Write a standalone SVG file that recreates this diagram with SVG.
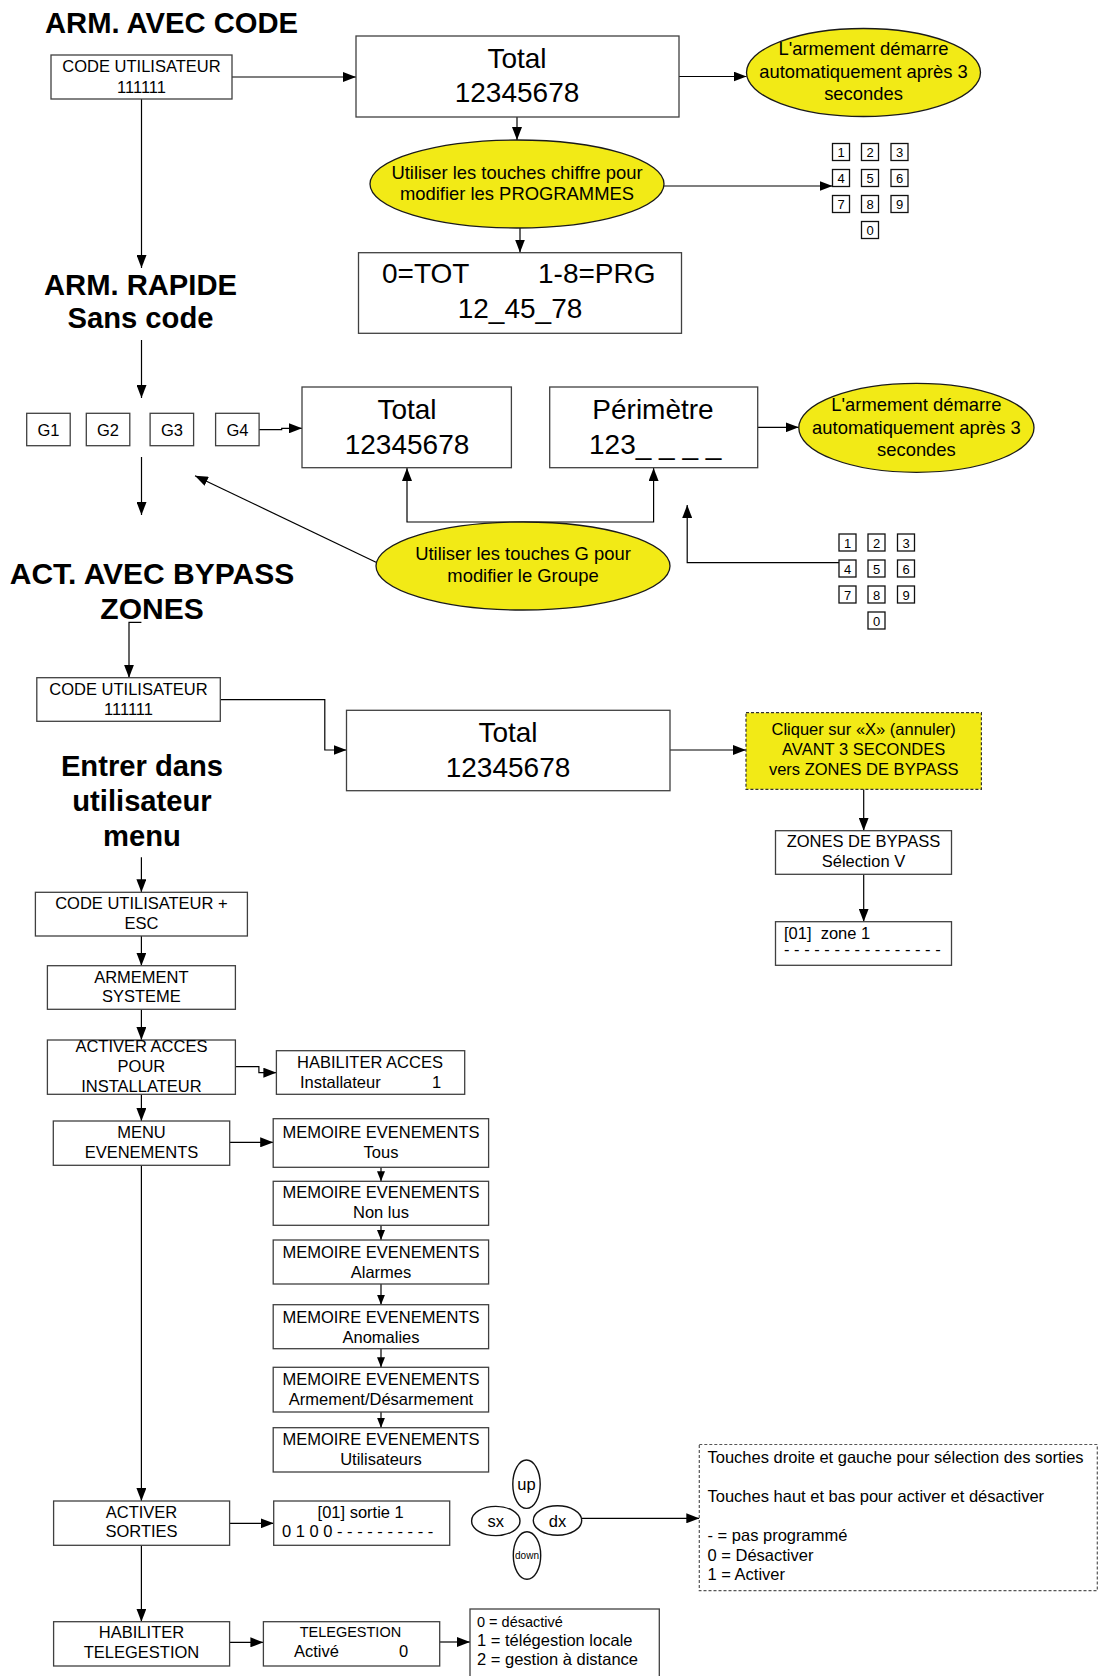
<svg xmlns="http://www.w3.org/2000/svg" width="1099" height="1676" viewBox="0 0 1099 1676">
<defs>
<style>
.box{fill:#fff;stroke:#404040;stroke-width:1.3}
.yel{fill:#f2ea16;stroke:#1a1a1a;stroke-width:1.3}
.ydash{fill:#f2ea16;stroke:#333;stroke-width:1.2;stroke-dasharray:3,2}
.ndash{fill:#fff;stroke:#555;stroke-width:1.2;stroke-dasharray:3,2}
.key{fill:#fff;stroke:#111;stroke-width:1.3}
.jk{fill:#fff;stroke:#111;stroke-width:1.4}
text{font-family:"Liberation Sans",Arial,Helvetica,sans-serif;fill:#000}
.s16{font-size:16.5px}
.s14{font-size:14.5px}
.s18{font-size:18.4px}
.s28{font-size:28px}
.s13{font-size:13px}
.s10{font-size:10px}
.ttl{font-size:29.2px;font-weight:bold}
.ttlw{font-size:30px;font-weight:bold}
.m{text-anchor:middle}
.conn{fill:none;stroke:#000;stroke-width:1.2}
</style>
<marker id="arr" markerUnits="userSpaceOnUse" viewBox="0 0 13 10" refX="13" refY="5" markerWidth="13" markerHeight="10" orient="auto">
<path d="M0,0 L13,5 L0,10 z" fill="#000"/>
</marker>
<marker id="arrS" markerUnits="userSpaceOnUse" viewBox="0 0 10 8" refX="10" refY="4" markerWidth="10" markerHeight="8" orient="auto">
<path d="M0,0 L10,4 L0,8 z" fill="#000"/>
</marker>
</defs>
<rect width="1099" height="1676" fill="#fff"/>

<g id="titles">
<text class="ttl" x="45" y="33">ARM. AVEC CODE</text>
<text class="ttl m" x="140.5" y="295">ARM. RAPIDE</text>
<text class="ttl m" x="140.5" y="328">Sans code</text>
<text class="ttlw m" x="152" y="584">ACT. AVEC BYPASS</text>
<text class="ttlw m" x="152" y="619">ZONES</text>
<text class="ttl m" x="142" y="776">Entrer dans</text>
<text class="ttl m" x="142" y="811">utilisateur</text>
<text class="ttl m" x="142" y="846">menu</text>
</g>

<g id="connectors">
<line class="conn" x1="232" y1="77" x2="356" y2="77" marker-end="url(#arr)"/>
<line class="conn" x1="679" y1="76.5" x2="746.5" y2="76.5" marker-end="url(#arr)"/>
<line class="conn" x1="517" y1="117" x2="517" y2="140" marker-end="url(#arr)"/>
<line class="conn" x1="520" y1="228" x2="520" y2="252.5" marker-end="url(#arr)"/>
<line class="conn" x1="663" y1="186" x2="832.5" y2="186" marker-end="url(#arr)"/>
<line class="conn" x1="141.5" y1="99" x2="141.5" y2="268" marker-end="url(#arr)"/>
<line class="conn" x1="141.5" y1="340" x2="141.5" y2="398" marker-end="url(#arr)"/>
<path class="conn" d="M259,429.7 H281.7 V428.3 H302" marker-end="url(#arr)"/>
<line class="conn" x1="141.5" y1="457" x2="141.5" y2="515" marker-end="url(#arr)"/>
<line class="conn" x1="376" y1="562.3" x2="195" y2="475.7" marker-end="url(#arr)"/>
<path class="conn" d="M523,522 H407 V468" marker-end="url(#arr)"/>
<path class="conn" d="M523,522 H653.6 V468" marker-end="url(#arr)"/>
<path class="conn" d="M839,562.7 H687.2 V505" marker-end="url(#arr)"/>
<line class="conn" x1="757.8" y1="427.3" x2="798.7" y2="427.3" marker-end="url(#arr)"/>
<path class="conn" d="M141.4,622.3 H129 V677.7" marker-end="url(#arr)"/>
<path class="conn" d="M220.3,699.7 H324.8 V750 H346.5" marker-end="url(#arr)"/>
<line class="conn" x1="670" y1="750" x2="746" y2="750" marker-end="url(#arr)"/>
<line class="conn" x1="863.7" y1="789.3" x2="863.7" y2="830.7" marker-end="url(#arr)"/>
<line class="conn" x1="863.7" y1="874.3" x2="863.7" y2="921.7" marker-end="url(#arr)"/>
<line class="conn" x1="141.4" y1="857.3" x2="141.4" y2="892.3" marker-end="url(#arr)"/>
<line class="conn" x1="141.4" y1="936" x2="141.4" y2="965.7" marker-end="url(#arr)"/>
<line class="conn" x1="141.4" y1="1009.3" x2="141.4" y2="1040" marker-end="url(#arr)"/>
<path class="conn" d="M235.4,1066.7 H258.9 V1072.7 H276.4" marker-end="url(#arr)"/>
<line class="conn" x1="141.4" y1="1094.3" x2="141.4" y2="1121" marker-end="url(#arr)"/>
<line class="conn" x1="229.7" y1="1142.3" x2="273.2" y2="1142.3" marker-end="url(#arr)"/>
<line class="conn" x1="381" y1="1167.3" x2="381" y2="1181.3" marker-end="url(#arrS)"/>
<line class="conn" x1="381" y1="1225.3" x2="381" y2="1240" marker-end="url(#arrS)"/>
<line class="conn" x1="381" y1="1284" x2="381" y2="1304.7" marker-end="url(#arrS)"/>
<line class="conn" x1="381" y1="1348.7" x2="381" y2="1367.3" marker-end="url(#arrS)"/>
<line class="conn" x1="381" y1="1412" x2="381" y2="1427.7" marker-end="url(#arrS)"/>
<line class="conn" x1="141.4" y1="1165.3" x2="141.4" y2="1501" marker-end="url(#arr)"/>
<line class="conn" x1="229.6" y1="1523.3" x2="273.7" y2="1523.3" marker-end="url(#arr)"/>
<line class="conn" x1="581.7" y1="1518.3" x2="699.3" y2="1518.3" marker-end="url(#arr)"/>
<line class="conn" x1="141.4" y1="1545.3" x2="141.4" y2="1621.7" marker-end="url(#arr)"/>
<line class="conn" x1="229.6" y1="1642.3" x2="263.4" y2="1642.3" marker-end="url(#arr)"/>
<line class="conn" x1="439.7" y1="1642" x2="470" y2="1642" marker-end="url(#arr)"/>
</g>

<g id="code1">
<rect class="box" x="51" y="55" width="181" height="44"/>
<text class="s16 m" x="141.5" y="72">CODE UTILISATEUR</text>
<text class="s16 m" x="141.5" y="92.5">111111</text>
</g>
<g id="total1">
<rect class="box" x="356" y="36" width="323" height="81"/>
<text class="s28 m" x="517" y="68">Total</text>
<text class="s28 m" x="517" y="102">12345678</text>
</g>
<g id="ell1">
<ellipse class="yel" cx="863.5" cy="72.5" rx="117" ry="44"/>
<text class="s18 m" x="863.5" y="55">L'armement démarre</text>
<text class="s18 m" x="863.5" y="77.5">automatiquement après 3</text>
<text class="s18 m" x="863.5" y="100">secondes</text>
</g>
<g id="ell2">
<ellipse class="yel" cx="517" cy="184" rx="147" ry="44"/>
<text class="s18 m" x="517" y="179">Utiliser les touches chiffre pour</text>
<text class="s18 m" x="517" y="200">modifier les PROGRAMMES</text>
</g>
<g id="prg">
<rect class="box" x="358.5" y="252.7" width="323" height="80.6"/>
<text class="s28" x="382" y="283">0=TOT</text>
<text class="s28" x="538" y="283">1-8=PRG</text>
<text class="s28 m" x="520" y="318">12_45_78</text>
</g>
<g id="keypad1">
<rect class="key" x="832.5" y="143.5" width="17" height="17"/><text class="s13 m" x="841" y="157">1</text>
<rect class="key" x="861.5" y="143.5" width="17" height="17"/><text class="s13 m" x="870" y="157">2</text>
<rect class="key" x="891" y="143.5" width="17" height="17"/><text class="s13 m" x="899.5" y="157">3</text>
<rect class="key" x="832.5" y="169.5" width="17" height="17"/><text class="s13 m" x="841" y="183">4</text>
<rect class="key" x="861.5" y="169.5" width="17" height="17"/><text class="s13 m" x="870" y="183">5</text>
<rect class="key" x="891" y="169.5" width="17" height="17"/><text class="s13 m" x="899.5" y="183">6</text>
<rect class="key" x="832.5" y="195.5" width="17" height="17"/><text class="s13 m" x="841" y="209">7</text>
<rect class="key" x="861.5" y="195.5" width="17" height="17"/><text class="s13 m" x="870" y="209">8</text>
<rect class="key" x="891" y="195.5" width="17" height="17"/><text class="s13 m" x="899.5" y="209">9</text>
<rect class="key" x="861.5" y="221.5" width="17" height="17"/><text class="s13 m" x="870" y="235">0</text>
</g>

<g id="g1"><rect class="box" x="26.7" y="413.3" width="43.5" height="32.4"/><text class="s16 m" x="48.5" y="435.5">G1</text></g>
<g id="g2"><rect class="box" x="86.3" y="413.3" width="43.5" height="32.4"/><text class="s16 m" x="108" y="435.5">G2</text></g>
<g id="g3"><rect class="box" x="150.1" y="413.3" width="43.5" height="32.4"/><text class="s16 m" x="172" y="435.5">G3</text></g>
<g id="g4"><rect class="box" x="215.6" y="413.3" width="43.5" height="32.4"/><text class="s16 m" x="237.4" y="435.5">G4</text></g>

<g id="total2">
<rect class="box" x="302" y="387" width="209.4" height="80.7"/>
<text class="s28 m" x="407" y="419">Total</text>
<text class="s28 m" x="407" y="454">12345678</text>
</g>
<g id="perim">
<rect class="box" x="549.7" y="387" width="208" height="80.7"/>
<text class="s28 m" x="653" y="419">Périmètre</text>
<text class="s28" x="589" y="454">123_ _ _ _</text>
</g>
<g id="ell3">
<ellipse class="yel" cx="916.4" cy="427.8" rx="117.6" ry="44.5"/>
<text class="s18 m" x="916.4" y="411">L'armement démarre</text>
<text class="s18 m" x="916.4" y="433.5">automatiquement après 3</text>
<text class="s18 m" x="916.4" y="456">secondes</text>
</g>
<g id="ellG">
<ellipse class="yel" cx="523" cy="566" rx="147" ry="44"/>
<text class="s18 m" x="523" y="560">Utiliser les touches G pour</text>
<text class="s18 m" x="523" y="582">modifier le Groupe</text>
</g>
<g id="keypad2">
<rect class="key" x="839" y="534" width="17" height="17"/><text class="s13 m" x="847.5" y="547.5">1</text>
<rect class="key" x="868" y="534" width="17" height="17"/><text class="s13 m" x="876.5" y="547.5">2</text>
<rect class="key" x="897.5" y="534" width="17" height="17"/><text class="s13 m" x="906" y="547.5">3</text>
<rect class="key" x="839" y="560" width="17" height="17"/><text class="s13 m" x="847.5" y="573.5">4</text>
<rect class="key" x="868" y="560" width="17" height="17"/><text class="s13 m" x="876.5" y="573.5">5</text>
<rect class="key" x="897.5" y="560" width="17" height="17"/><text class="s13 m" x="906" y="573.5">6</text>
<rect class="key" x="839" y="586" width="17" height="17"/><text class="s13 m" x="847.5" y="599.5">7</text>
<rect class="key" x="868" y="586" width="17" height="17"/><text class="s13 m" x="876.5" y="599.5">8</text>
<rect class="key" x="897.5" y="586" width="17" height="17"/><text class="s13 m" x="906" y="599.5">9</text>
<rect class="key" x="868" y="612" width="17" height="17"/><text class="s13 m" x="876.5" y="625.5">0</text>
</g>

<g id="code2">
<rect class="box" x="36.8" y="677.7" width="183.5" height="43.6"/>
<text class="s16 m" x="128.5" y="695">CODE UTILISATEUR</text>
<text class="s16 m" x="128.5" y="715">111111</text>
</g>
<g id="total3">
<rect class="box" x="346.5" y="710.3" width="323.5" height="80.4"/>
<text class="s28 m" x="508" y="742">Total</text>
<text class="s28 m" x="508" y="777">12345678</text>
</g>
<g id="cancel">
<rect class="ydash" x="746" y="712.7" width="235.4" height="76.6"/>
<text class="s16 m" x="863.7" y="735">Cliquer sur «X» (annuler)</text>
<text class="s16 m" x="863.7" y="755">AVANT 3 SECONDES</text>
<text class="s16 m" x="863.7" y="775">vers ZONES DE BYPASS</text>
</g>
<g id="zbypass">
<rect class="box" x="775.5" y="830.7" width="176" height="43.6"/>
<text class="s16 m" x="863.5" y="847">ZONES DE BYPASS</text>
<text class="s16 m" x="863.5" y="867">Sélection V</text>
</g>
<g id="zone1">
<rect class="box" x="775.5" y="921.7" width="176" height="43.6"/>
<text class="s16" x="784" y="938.5" xml:space="preserve">[01]  zone 1</text>
<text class="s16" x="784" y="955">- - - - - - - - - - - - - - - -</text>
</g>

<g id="codeEsc">
<rect class="box" x="35.4" y="892.3" width="212" height="43.7"/>
<text class="s16 m" x="141.4" y="909.3">CODE UTILISATEUR +</text>
<text class="s16 m" x="141.4" y="929.3">ESC</text>
</g>
<g id="armSys">
<rect class="box" x="47.4" y="965.7" width="188" height="43.6"/>
<text class="s16 m" x="141.4" y="983.3">ARMEMENT</text>
<text class="s16 m" x="141.4" y="1002.3">SYSTEME</text>
</g>
<g id="activAcces">
<rect class="box" x="47.4" y="1040" width="188" height="54.3"/>
<text class="s16 m" x="141.4" y="1051.7">ACTIVER ACCES</text>
<text class="s16 m" x="141.4" y="1071.7">POUR</text>
<text class="s16 m" x="141.4" y="1091.7">INSTALLATEUR</text>
</g>
<g id="habAcces">
<rect class="box" x="276.4" y="1050.7" width="188.3" height="43.6"/>
<text class="s16 m" x="370" y="1068.3">HABILITER ACCES</text>
<text class="s16" x="300" y="1087.7">Installateur</text>
<text class="s16" x="432" y="1087.7">1</text>
</g>
<g id="menuEv">
<rect class="box" x="53.3" y="1121" width="176.4" height="44.3"/>
<text class="s16 m" x="141.5" y="1138.3">MENU</text>
<text class="s16 m" x="141.5" y="1158.3">EVENEMENTS</text>
</g>
<g id="mem1">
<rect class="box" x="273.2" y="1118.7" width="215.4" height="48.6"/>
<text class="s16 m" x="381" y="1138.3">MEMOIRE EVENEMENTS</text>
<text class="s16 m" x="381" y="1158.3">Tous</text>
</g>
<g id="mem2">
<rect class="box" x="273.2" y="1181.3" width="215.4" height="44"/>
<text class="s16 m" x="381" y="1198.3">MEMOIRE EVENEMENTS</text>
<text class="s16 m" x="381" y="1218.3">Non lus</text>
</g>
<g id="mem3">
<rect class="box" x="273.2" y="1240" width="215.4" height="44"/>
<text class="s16 m" x="381" y="1257.7">MEMOIRE EVENEMENTS</text>
<text class="s16 m" x="381" y="1277.7">Alarmes</text>
</g>
<g id="mem4">
<rect class="box" x="273.2" y="1304.7" width="215.4" height="44"/>
<text class="s16 m" x="381" y="1322.7">MEMOIRE EVENEMENTS</text>
<text class="s16 m" x="381" y="1342.7">Anomalies</text>
</g>
<g id="mem5">
<rect class="box" x="273.2" y="1367.3" width="215.4" height="44.7"/>
<text class="s16 m" x="381" y="1385">MEMOIRE EVENEMENTS</text>
<text class="s16 m" x="381" y="1405">Armement/Désarmement</text>
</g>
<g id="mem6">
<rect class="box" x="273.2" y="1427.7" width="215.4" height="44.3"/>
<text class="s16 m" x="381" y="1445">MEMOIRE EVENEMENTS</text>
<text class="s16 m" x="381" y="1465">Utilisateurs</text>
</g>

<g id="actSort">
<rect class="box" x="53.6" y="1501" width="176" height="44.3"/>
<text class="s16 m" x="141.5" y="1517.7">ACTIVER</text>
<text class="s16 m" x="141.5" y="1537.3">SORTIES</text>
</g>
<g id="sortie">
<rect class="box" x="273.7" y="1501" width="176" height="44.3"/>
<text class="s16 m" x="360.7" y="1517.7">[01] sortie 1</text>
<text class="s16" x="282" y="1537.3">0 1 0 0 - - - - - - - - - -</text>
</g>
<g id="joystick">
<ellipse class="jk" cx="526.5" cy="1484.2" rx="13.7" ry="24.2"/>
<text class="s16 m" x="526.5" y="1490">up</text>
<ellipse class="jk" cx="495.8" cy="1521" rx="24.2" ry="14.6"/>
<text class="s16 m" x="495.8" y="1527">sx</text>
<ellipse class="jk" cx="557.5" cy="1520.5" rx="24.2" ry="14.7"/>
<text class="s16 m" x="557.5" y="1526.5">dx</text>
<ellipse class="jk" cx="527" cy="1555.5" rx="13.7" ry="23.8"/>
<text class="s10 m" x="527" y="1559">down</text>
</g>
<g id="note">
<rect class="ndash" x="699.3" y="1444.5" width="398" height="146.2"/>
<text class="s16" x="707.5" y="1462.7">Touches droite et gauche pour sélection des sorties</text>
<text class="s16" x="707.5" y="1501.7">Touches haut et bas pour activer et désactiver</text>
<text class="s16" x="707.5" y="1541">- = pas programmé</text>
<text class="s16" x="707.5" y="1560.5">0 = Désactiver</text>
<text class="s16" x="707.5" y="1580">1 = Activer</text>
</g>
<g id="habTele">
<rect class="box" x="53.6" y="1621.7" width="176" height="44.3"/>
<text class="s16 m" x="141.5" y="1638.3">HABILITER</text>
<text class="s16 m" x="141.5" y="1658.3">TELEGESTION</text>
</g>
<g id="tele">
<rect class="box" x="263.4" y="1621.7" width="176.3" height="44.3"/>
<text class="s14 m" x="350.4" y="1636.7">TELEGESTION</text>
<text class="s16" x="294" y="1656.7">Activé</text>
<text class="s16" x="399" y="1656.7">0</text>
</g>
<g id="teleOpts">
<rect class="box" x="470" y="1609" width="189.3" height="80"/>
<text class="s14" x="477" y="1626.7">0 = désactivé</text>
<text class="s16" x="477" y="1645.5">1 = télégestion locale</text>
<text class="s16" x="477" y="1664.5">2 = gestion à distance</text>
</g>
</svg>
